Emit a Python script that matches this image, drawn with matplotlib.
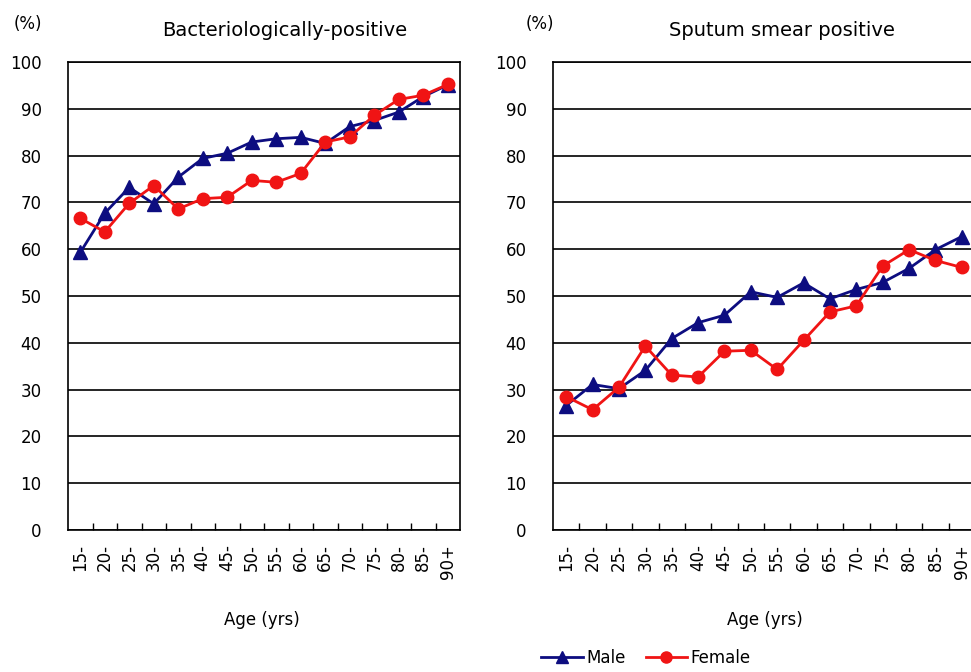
import numpy as np
import matplotlib
matplotlib.use('Agg')
import matplotlib.pyplot as plt
from matplotlib.lines import Line2D

plt.rcParams['font.family'] = ['DejaVu Sans', 'Noto Sans CJK JP']

ages = ['15-', '20-', '25-', '30-', '35-', '40-', '45-', '50-',
        '55-', '60-', '65-', '70-', '75-', '80-', '85-', '90+']

# Bacteriologically-positive (%)
bact_male = [59.3, 67.7, 73.2, 69.7, 75.4, 79.4, 80.5, 82.9,
             83.6, 83.9, 82.6, 86.2, 87.5, 89.3, 92.6, 95.1]
bact_female = [66.6, 63.7, 69.8, 73.6, 68.6, 70.8, 71.1, 74.7,
               74.3, 76.2, 82.9, 84.0, 88.6, 92.0, 92.9, 95.2]

# Sputum smear positive (%)
smear_male = [26.6, 31.1, 30.2, 34.1, 40.9, 44.3, 45.9, 50.9,
              49.7, 52.8, 49.4, 51.4, 52.9, 55.9, 59.9, 62.7]
smear_female = [28.5, 25.7, 30.5, 39.3, 33.1, 32.7, 38.2, 38.4,
                34.3, 40.5, 46.6, 47.9, 56.4, 59.9, 57.6, 56.1]

navy = '#0d0d80'
red = '#f01414'

fig = plt.figure(figsize=(9.71, 6.72), dpi=100)

panels = [
    ([68 / 971, 142 / 672, 392 / 971, 468 / 672], bact_male, bact_female,
     'Bacteriologically-positive', 285, 28, 262),
    ([553 / 971, 142 / 672, 422 / 971, 468 / 672], smear_male, smear_female,
     'Sputum smear positive', 782, 540, 765),
]

x = np.arange(len(ages))
for rect, male, female, title, tx, px, ax_x in panels:
    ax = fig.add_axes(rect)
    ax.set_xlim(-0.5, len(ages) - 0.5)
    ax.set_ylim(0, 100)
    ax.set_yticks(np.arange(0, 101, 10))
    ax.yaxis.grid(True, color='black', linewidth=1.2)
    ax.set_axisbelow(True)
    ax.tick_params(axis='y', length=0, pad=19, labelsize=12)
    ax.set_xticks(x)
    ax.set_xticklabels(ages, rotation=90, fontsize=12)
    ax.tick_params(axis='x', which='major', length=0, pad=10)
    ax.set_xticks(np.arange(0.5, len(ages) - 0.5, 1), minor=True)
    ax.tick_params(axis='x', which='minor', direction='in', length=5, width=1)
    for s in ax.spines.values():
        s.set_linewidth(1.2)
        s.set_color('black')
    ax.plot(x, male, color=navy, marker='^', markersize=10, linewidth=2, clip_on=False, zorder=3)
    ax.plot(x, female, color=red, marker='o', markersize=9, linewidth=2, clip_on=False, zorder=4)
    fig.text(tx / 971, 1 - 30 / 672, title, ha='center', va='center', fontsize=14)
    fig.text(px / 971, 1 - 24 / 672, '(%)', ha='center', va='center', fontsize=12)
    fig.text(ax_x / 971, 1 - 620 / 672, 'Age (yrs)', ha='center', va='center', fontsize=12)

handles = [Line2D([], [], color=navy, marker='^', markersize=8, linewidth=2),
           Line2D([], [], color=red, marker='o', markersize=8, linewidth=2)]
fig.legend(handles, ['Male', 'Female'], loc='center', bbox_to_anchor=(646 / 971, 1 - 658 / 672),
           ncol=2, frameon=False, fontsize=12, handlelength=2.5, handletextpad=0.2,
           columnspacing=1.2, borderpad=0)

fig.savefig('out.png', dpi=100)
